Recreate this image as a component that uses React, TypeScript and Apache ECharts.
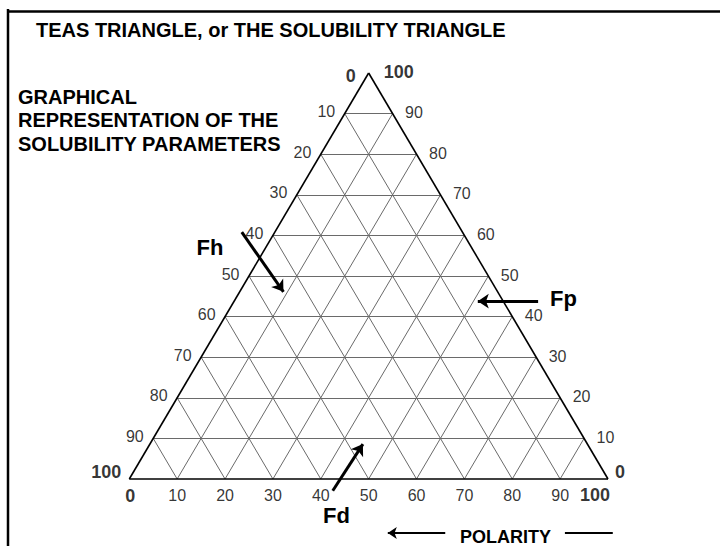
import React, { useEffect, useRef } from 'react';
import * as echarts from 'echarts';

// ---- data (ternary percentages) ----
const TICKS = [10, 20, 30, 40, 50, 60, 70, 80, 90];
const LEFT_SIDE_LABELS = ['10', '20', '30', '40', '50', '60', '70', '80', '90']; // apex -> bottom-left
const RIGHT_SIDE_LABELS = ['90', '80', '70', '60', '50', '40', '30', '20', '10']; // apex -> bottom-right
const BOTTOM_LABELS = ['10', '20', '30', '40', '50', '60', '70', '80', '90']; // left -> right
const APEX_LABELS = ['0', '100'];
const BASE_LEFT_LABELS = ['100', '0'];
const BASE_RIGHT_LABELS = ['0', '100'];

// annotation arrows in the chart's coordinates (x: 0..100 along base, y: 0..100 of height)
const ARROW_FH = [[23.5, 60.8], [32.2, 46.1]];
const ARROW_FP = [[85.4, 43.8], [72.8, 43.8]];
const ARROW_FD = [[42.5, -2.9], [48.8, 8.6]];
const POLARITY_ARROW = [[66.0, -13.3], [54.0, -13.3]];
const POLARITY_TAIL = [[91.0, -13.3], [101.0, -13.3]];

const FONT = '"Liberation Sans", Arial, Helvetica, sans-serif';

function buildOption() {
  const inner: any[] = [];
  TICKS.forEach((k) => {
    inner.push({ coords: [[k / 2, k], [100 - k / 2, k]] });
    inner.push({ coords: [[k, 0], [50 + k / 2, 100 - k]] });
    inner.push({ coords: [[k, 0], [k / 2, k]] });
  });
  const outer = [
    { coords: [[0, 0], [100, 0]] },
    { coords: [[100, 0], [50, 100]] },
    { coords: [[50, 100], [0, 0]] },
  ];

  const tickLabel = { show: true, position: 'inside', color: '#000', fontFamily: FONT, fontSize: 16 };
  const cornerLabel = { show: true, position: 'inside', color: '#000', fontFamily: FONT, fontSize: 18, fontWeight: 'bold' };

  const leftData = LEFT_SIDE_LABELS.map((t, i) => {
    const v = TICKS[i];
    return { value: [(100 - v) / 2, 100 - v], name: t };
  });
  const rightData = RIGHT_SIDE_LABELS.map((t, i) => {
    const h = TICKS[TICKS.length - 1 - i];
    return { value: [100 - h / 2, h], name: t };
  });
  const bottomData = BOTTOM_LABELS.map((t, i) => ({ value: [TICKS[i], 0], name: t }));

  const cornerData = [
    { value: [50, 100], name: APEX_LABELS[0], label: { ...cornerLabel, align: 'right', verticalAlign: 'middle', offset: [-13, 3] } },
    { value: [50, 100], name: APEX_LABELS[1], label: { ...cornerLabel, align: 'left', verticalAlign: 'middle', offset: [15, -1.5] } },
    { value: [0, 0], name: BASE_LEFT_LABELS[0], label: { ...cornerLabel, align: 'right', verticalAlign: 'middle', offset: [-8, -7] } },
    { value: [0, 0], name: BASE_LEFT_LABELS[1], label: { ...cornerLabel, align: 'center', verticalAlign: 'middle', offset: [1, 17] } },
    { value: [100, 0], name: BASE_RIGHT_LABELS[0], label: { ...cornerLabel, align: 'left', verticalAlign: 'middle', offset: [7, -7] } },
    { value: [100, 0], name: BASE_RIGHT_LABELS[1], label: { ...cornerLabel, align: 'center', verticalAlign: 'middle', offset: [-13, 16] } },
  ];

  const labelSeries = (data: any[], label: any) => ({
    type: 'scatter',
    data,
    symbolSize: 1,
    clip: false,
    silent: true,
    itemStyle: { color: 'rgba(0,0,0,0)' },
    label: { ...label, formatter: (p: any) => p.name },
  });

  const arrowSeries = (coords: number[][], width: number, size: number, head = true) => ({
    type: 'lines',
    coordinateSystem: 'cartesian2d',
    clip: false,
    silent: true,
    symbol: ['none', head ? 'arrow' : 'none'],
    symbolSize: [0, size],
    lineStyle: { color: '#000', width, opacity: 1, curveness: 0 },
    data: [{ coords }],
  });

  return {
    animation: false,
    backgroundColor: '#fff',
    grid: { left: 129.3, right: 112, top: 73, bottom: 67 },
    xAxis: { type: 'value', min: 0, max: 100, show: false },
    yAxis: { type: 'value', min: 0, max: 100, show: false },
    graphic: [
      { type: 'line', shape: { x1: 7, y1: 11.5, x2: 720, y2: 11.5 }, style: { stroke: '#000', lineWidth: 2.5 } },
      { type: 'line', shape: { x1: 8, y1: 9, x2: 8, y2: 546 }, style: { stroke: '#000', lineWidth: 2.5 } },
      { type: 'text', x: 36, y: 30, style: { text: 'TEAS TRIANGLE, or THE SOLUBILITY TRIANGLE', font: `bold 20px ${FONT}`, fill: '#000', verticalAlign: 'middle' } },
      { type: 'text', x: 18, y: 96.7, style: { text: 'GRAPHICAL', font: `bold 20px ${FONT}`, fill: '#000', verticalAlign: 'middle' } },
      { type: 'text', x: 18, y: 120.3, style: { text: 'REPRESENTATION OF THE', font: `bold 20px ${FONT}`, fill: '#000', verticalAlign: 'middle' } },
      { type: 'text', x: 18, y: 143.7, style: { text: 'SOLUBILITY PARAMETERS', font: `bold 20px ${FONT}`, fill: '#000', verticalAlign: 'middle' } },
      { type: 'text', x: 196.5, y: 247, style: { text: 'Fh', font: `bold 22px ${FONT}`, fill: '#000', verticalAlign: 'middle' } },
      { type: 'text', x: 550, y: 298, style: { text: 'Fp', font: `bold 22px ${FONT}`, fill: '#000', verticalAlign: 'middle' } },
      { type: 'text', x: 323, y: 515.5, style: { text: 'Fd', font: `bold 22px ${FONT}`, fill: '#000', verticalAlign: 'middle' } },
      { type: 'text', x: 460, y: 537, style: { text: 'POLARITY', font: `bold 18px ${FONT}`, fill: '#000', verticalAlign: 'middle' } },
    ],
    series: [
      {
        type: 'lines', coordinateSystem: 'cartesian2d', silent: true, clip: false,
        lineStyle: { color: '#6a6a6a', width: 1, opacity: 1, curveness: 0 },
        data: inner,
      },
      {
        type: 'lines', coordinateSystem: 'cartesian2d', silent: true, clip: false,
        lineStyle: { color: '#000', width: 1.6, opacity: 1, curveness: 0 },
        data: outer,
      },
      labelSeries(leftData, { ...tickLabel, align: 'right', verticalAlign: 'middle', offset: [-9.5, -2] }),
      labelSeries(rightData, { ...tickLabel, align: 'left', verticalAlign: 'middle', offset: [12.5, -1] }),
      labelSeries(bottomData, { ...tickLabel, align: 'center', verticalAlign: 'middle', offset: [0, 16] }),
      labelSeries(cornerData, cornerLabel),
      arrowSeries(ARROW_FH, 3, 11),
      arrowSeries(ARROW_FP, 3, 11),
      arrowSeries(ARROW_FD, 3, 11),
      arrowSeries(POLARITY_ARROW, 2, 9),
      arrowSeries(POLARITY_TAIL, 2, 0, false),
    ],
  };
}

export default function App() {
  const ref = useRef<HTMLDivElement>(null);
  useEffect(() => {
    if (!ref.current) return;
    const chart = echarts.init(ref.current, undefined, { renderer: 'svg' });
    chart.setOption(buildOption() as any);
    return () => chart.dispose();
  }, []);
  return (
    <div
      ref={ref}
      style={{ position: 'absolute', left: 0, top: 0, width: 720, height: 546, background: '#fff' }}
    />
  );
}
